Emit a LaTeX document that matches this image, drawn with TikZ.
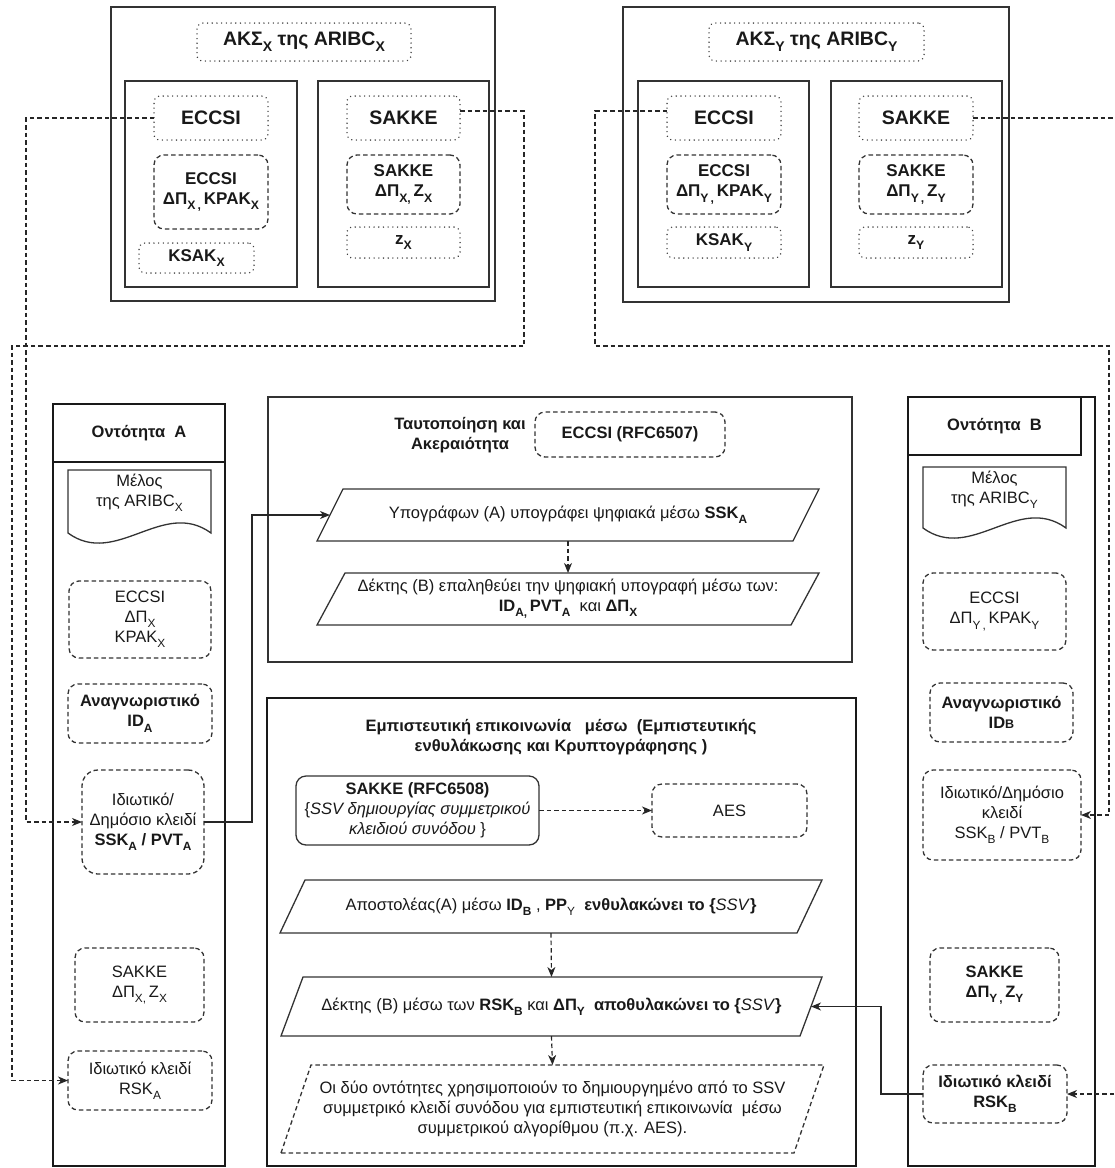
\documentclass[tikz,border=0pt]{standalone}
\usepackage{fontspec}
\setmainfont{Liberation Sans}
\usepackage{graphicx}
\usetikzlibrary{arrows.meta,calc}

% lowered, reduced index letters in the running font
\newcommand\sbx[1]{\raisebox{-0.32em}{\scalebox{0.72}{#1}}}
% box node given by its corners (x0,y0) and (x1,y1), y growing downwards
\newcommand\bnode[7]{\node[#1,minimum width={#5-#3},minimum height={#6-#4}] (#2) at ({(#3+#5)/2},{(#4+#6)/2}) {#7};}
% parallelogram: draw style, name, bottom-left x, bottom-right x, top y, bottom y, slant, text style, text
\newcommand\pgram[9]{%
  \draw[#1] (#3,#6) -- (#4,#6) -- ({#4+#7},#5) -- ({#3+#7},#5) -- cycle;
  \node[#8] (#2) at ({(#3+#4+#7)/2},{(#5+#6)/2}) {#9};
  \coordinate (#2-w) at ({#3+#7/2},{(#5+#6)/2});
  \coordinate (#2-e) at ({#4+#7/2},{(#5+#6)/2});
  \coordinate (#2-n) at ({(#3+#4+#7)/2},#5);
  \coordinate (#2-s) at ({(#3+#4+#7)/2},#6);}
% document outline (wavy lower edge) around a text node
\newcommand\docshape[2]{\draw[docline] (#1.north west) -- (#1.north east) -- ($(#1.south east)+(0,#2)$)
  .. controls +(-48,-35) and +(48,35) .. ($(#1.south west)+(0,#2)$) -- cycle;}

\tikzset{
  base/.style={inner sep=0pt, outer sep=0pt, align=center, text=black!90},
  frame/.style={base, draw=black!80, line width=1.3pt},
  heavyframe/.style={base, draw=black!90, line width=2.4pt},
  dotbox/.style={base, draw=black!75, line width=1.5pt, line cap=round, dash pattern=on 0.1pt off 4.6pt, rounded corners=6pt},
  dashbox/.style={base, draw=black!80, line width=1.3pt, dash pattern=on 4.5pt off 3pt, rounded corners=10pt},
  solidround/.style={base, draw=black!80, line width=1.3pt, rounded corners=10pt},
  docline/.style={draw=black!80, line width=1.3pt},
  pline/.style={draw=black!80, line width=1.3pt},
  pdash/.style={draw=black!80, line width=1.3pt, dash pattern=on 4.5pt off 3pt},
  txt/.style={base},
  flow/.style={draw=black!85, line width=1.2pt, -{Stealth[length=10pt,width=8pt,inset=3pt]}},
  dflow/.style={flow, dash pattern=on 4.5pt off 3pt},
  fbig/.style={font=\fontsize{19.5}{23}\selectfont\bfseries},
  fmid/.style={font=\fontsize{17}{20}\selectfont\bfseries},
  fbold/.style={font=\fontsize{16.5}{20}\selectfont\bfseries},
  freg/.style={font=\fontsize{16.5}{20}\selectfont},
}

\begin{document}
\begin{tikzpicture}[x=1pt,y=-1pt]
\useasboundingbox (0,0) rectangle (1115,1168);

% ---------- key management server X ----------
\bnode{frame}{gX}{111}{7}{495}{301}{}
\bnode{dotbox,fbig}{tX}{197}{23}{411}{61}{ΑΚΣ\sbx{X} της ARIBC\sbx{X}}
\bnode{frame}{iXl}{125}{81}{297}{287}{}
\bnode{frame}{iXr}{318}{81}{489}{287}{}
\bnode{dotbox,fbig}{eccX}{154}{96}{268}{140}{ECCSI}
\bnode{dashbox,fmid}{eccdX}{154}{155}{268}{229}{ECCSI\\ΔΠ\sbx{X\,,}\,KPAK\sbx{X}}
\bnode{dotbox,fmid}{ksakX}{139}{243}{254}{273}{KSAK\sbx{X}}
\bnode{dotbox,fbig}{sakX}{347}{96}{460}{140}{SAKKE}
\bnode{dashbox,fmid}{sakdX}{347}{155}{460}{214}{SAKKE\\ΔΠ\sbx{X,}\,Z\sbx{X}}
\bnode{dotbox,fmid}{zX}{347}{227}{460}{258}{z\sbx{X}}

% ---------- key management server Y ----------
\bnode{frame}{gY}{623}{7}{1009}{302}{}
\bnode{dotbox,fbig}{tY}{709}{23}{924}{61}{ΑΚΣ\sbx{Y} της ARIBC\sbx{Y}}
\bnode{frame}{iYl}{638}{81}{809}{287}{}
\bnode{frame}{iYr}{831}{81}{1002}{287}{}
\bnode{dotbox,fbig}{eccY}{667}{96}{781}{140}{ECCSI}
\bnode{dashbox,fmid}{eccdY}{667}{155}{781}{214}{ECCSI\\ΔΠ\sbx{Y\,,}\,KPAK\sbx{Y}}
\bnode{dotbox,fmid}{ksakY}{667}{227}{781}{258}{KSAK\sbx{Y}}
\bnode{dotbox,fbig}{sakY}{859}{96}{973}{140}{SAKKE}
\bnode{dashbox,fmid}{sakdY}{859}{155}{973}{214}{SAKKE\\ΔΠ\sbx{Y\,,}\,Z\sbx{Y}}
\bnode{dotbox,fmid}{zY}{859}{227}{973}{258}{z\sbx{Y}}

% ---------- entity A ----------
\bnode{heavyframe}{colA}{53}{404}{225}{1166}{}
\bnode{heavyframe,fbold}{hdA}{53}{404}{225}{462}{Οντότητα\ \ A}
\bnode{txt,freg}{memA}{68}{470}{211}{516}{Μέλος\\της ARIBC\sbx{X}}
\docshape{memA}{17}
\bnode{dashbox,freg}{eccA}{69}{581}{211}{658}{ECCSI\\ΔΠ\sbx{X}\\KPAK\sbx{X}}
\bnode{dashbox,fbold}{idA}{68}{684}{212}{743}{Αναγνωριστικό\\ID\sbx{A}}
\bnode{dashbox,freg,rounded corners=16pt}{sskA}{82}{770}{204}{874}{Ιδιωτικό/\\Δημόσιο κλειδί\\\textbf{SSK\sbx{A} / PVT\sbx{A}}}
\bnode{dashbox,freg}{sakA}{75}{948}{204}{1022}{SAKKE\\ΔΠ\sbx{X,}\,Z\sbx{X}}
\bnode{dashbox,freg}{rskA}{68}{1051}{212}{1110}{Ιδιωτικό κλειδί\\RSK\sbx{A}}

% ---------- entity B ----------
\bnode{heavyframe}{colB}{908}{397}{1095}{1166}{}
\bnode{heavyframe,fbold}{hdB}{908}{397}{1081}{455}{Οντότητα\ \ B}
\bnode{txt,freg}{memB}{923}{467}{1066}{513}{Μέλος\\της ARIBC\sbx{Y}}
\docshape{memB}{15}
\bnode{dashbox,freg}{eccB}{923}{573}{1066}{650}{ECCSI\\ΔΠ\sbx{Y\,,}\,KPAK\sbx{Y}}
\bnode{dashbox,fbold}{idB}{930}{683}{1073}{742}{Αναγνωριστικό\\ID{\fontsize{12.5}{14}\selectfont B}}
\bnode{dashbox,freg}{sskB}{923}{770}{1081}{860}{Ιδιωτικό/Δημόσιο\\κλειδί\\SSK\sbx{B} / PVT\sbx{B}}
\bnode{dashbox,fbold}{sakB}{930}{948}{1059}{1022}{SAKKE\\ΔΠ\sbx{Y\,,}\,Z\sbx{Y}}
\bnode{dashbox,fbold}{rskB}{923}{1065}{1067}{1123}{Ιδιωτικό κλειδί\\RSK\sbx{B}}

% ---------- authentication and integrity ----------
\bnode{frame,line width=1.1pt}{auth}{268}{397}{852}{662}{}
\bnode{txt,fbold}{authT}{393}{413}{527}{457}{Ταυτοποίηση και\\Ακεραιότητα}
\bnode{dashbox,fbold}{eccRFC}{535}{412}{725}{457}{ECCSI (RFC6507)}
\pgram{pline}{p1}{317}{793}{489}{541}{26}{txt,freg}{Υπογράφων (A) υπογράφει ψηφιακά μέσω \textbf{SSK\sbx{A}}}
\pgram{pline}{p2}{317}{791}{573}{625}{28}{txt,freg}{Δέκτης (B) επαληθεύει την ψηφιακή υπογραφή μέσω των:\\\textbf{ID\sbx{A,}\,PVT\sbx{A}}\ \ και \textbf{ΔΠ\sbx{X}}}
\draw[dflow] (p1-s) -- (p2-n);

% ---------- confidential communication ----------
\bnode{heavyframe}{comm}{267}{698}{856}{1166}{}
\node[txt,fbold] (commT) at (561,737) {Εμπιστευτική επικοινωνία\ \ \ μέσω\ \ (Εμπιστευτικής\\ενθυλάκωσης και Κρυπτογράφησης )};
\bnode{solidround,freg}{sakRFC}{296}{776}{539}{845}{\textbf{SAKKE (RFC6508)}\\\{\textit{SSV δημιουργίας συμμετρικού}\\\textit{κλειδιού συνόδου} \}}
\bnode{dashbox,freg}{aes}{652}{784}{807}{837}{AES}
\draw[dflow] (sakRFC.east) -- (aes.west);
\pgram{pline}{p3}{280}{797}{880}{933}{25}{txt,freg}{Αποστολέας(A) μέσω \textbf{ID\sbx{B}} , \textbf{PP}\sbx{Y}\ \ \textbf{ενθυλακώνει το \{}\textit{SSV}\textbf{\}}}
\pgram{pline}{p4}{281}{800}{977}{1036}{22}{txt,freg}{Δέκτης (B) μέσω των \textbf{RSK\sbx{B}} και \textbf{ΔΠ\sbx{Y}\ \ αποθυλακώνει το \{}\textit{SSV}\textbf{\}}}
\pgram{pdash}{p5}{281}{794}{1065}{1153}{30}{txt,freg}{Οι δύο οντότητες χρησιμοποιούν το δημιουργημένο από το SSV\\συμμετρικό κλειδί συνόδου για εμπιστευτική επικοινωνία\ \ μέσω\\συμμετρικού αλγορίθμου (π.χ. AES).}
\draw[dflow] (p3-s) -- (p4-n);
\draw[dflow] (p4-s) -- (p5-n);

% ---------- key distribution and usage ----------
\draw[flow] (sskA.east) -- ++(48,0) |- (p1-w);
\draw[flow] (rskB.west) -- ++(-42,0) |- (p4-e);
\draw[dflow] (eccX.west) -- ++(-128,0) |- (sskA.west);
\draw[dflow] ([yshift=7pt]sakX.east) -- ++(64,0) -- ++(0,235) -- ++(-512,0) |- (rskA.west);
\draw[dflow] ([yshift=7pt]eccY.west) -- ++(-72,0) -- ++(0,235) -- ++(514,0) |- (sskB.east);
\draw[dflow] (sakY.east) -- ++(160,0) |- (rskB.east);
\end{tikzpicture}
\end{document}
